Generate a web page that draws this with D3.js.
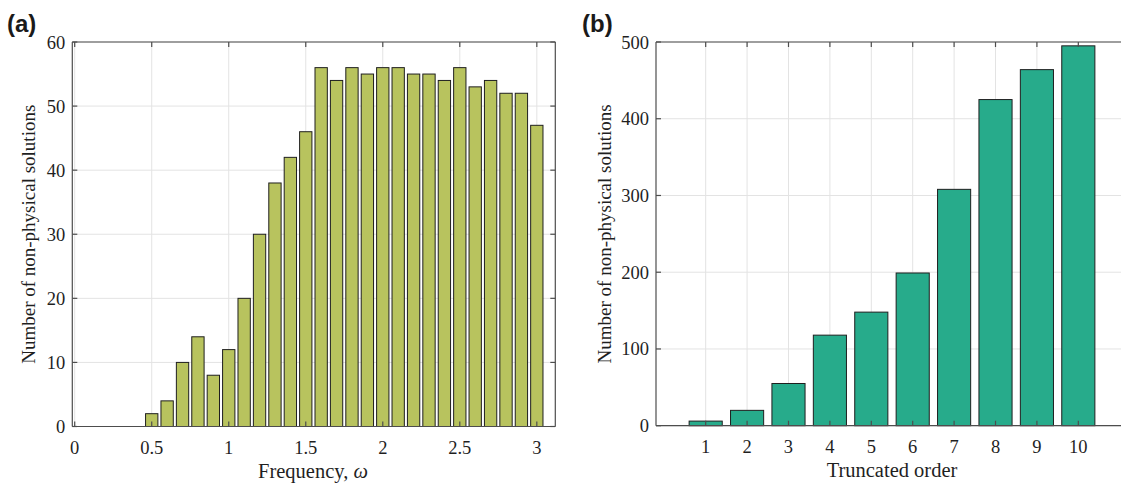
<!DOCTYPE html>
<html><head><meta charset="utf-8">
<script src="https://cdn.jsdelivr.net/npm/d3@7"></script>
<style>body{margin:0;background:#fff}svg{display:block}</style>
</head><body>
<svg id="c" width="1121" height="483"></svg>
<script>
// Panel (a)
const freqX = [0.1,0.2,0.3,0.4,0.5,0.6,0.7,0.8,0.9,1.0,1.1,1.2,1.3,1.4,1.5,1.6,1.7,1.8,1.9,2.0,2.1,2.2,2.3,2.4,2.5,2.6,2.7,2.8,2.9,3.0];
const freqCount = [0,0,0,0,2,4,10,14,8,12,20,30,38,42,46,56,54,56,55,56,56,55,55,54,56,53,54,52,52,47];
const freqTicks = [0,0.5,1,1.5,2,2.5,3];
const freqTickLabels = ["0","0.5","1","1.5","2","2.5","3"];
const countTicksA = [0,10,20,30,40,50,60];
// Panel (b)
const orders = [1,2,3,4,5,6,7,8,9,10];
const orderCount = [6,20,55,118,148,199,308,425,464,495];
const countTicksB = [0,100,200,300,400,500];

const svg = d3.select("#c");
const serif = "'Liberation Serif','Times New Roman',serif";
const axisCol = "#4d4d4d", gridCol = "#e3e3e3";

function panel(o){
  const g = svg.append("g");
  const x = d3.scaleLinear().domain(o.xdom).range([o.left,o.right]);
  const y = d3.scaleLinear().domain(o.ydom).range([o.bottom,o.top]);
  const clipId = "clip"+o.id;
  svg.append("clipPath").attr("id",clipId).append("rect")
    .attr("x",o.left).attr("y",o.top-2).attr("width",Math.min(o.right,1121)-o.left+1).attr("height",o.bottom-o.top+4);
  // grid
  g.selectAll(".gx").data(o.xticks).join("line")
    .attr("x1",d=>x(d)).attr("x2",d=>x(d)).attr("y1",o.top).attr("y2",o.bottom)
    .attr("stroke",gridCol).attr("stroke-width",1);
  g.selectAll(".gy").data(o.yticks).join("line")
    .attr("x1",o.left).attr("x2",o.right).attr("y1",d=>y(d)).attr("y2",d=>y(d))
    .attr("stroke",gridCol).attr("stroke-width",1);
  // bars
  const bw = (x(o.barStep)-x(0))*0.8;
  g.append("g").attr("clip-path",`url(#${clipId})`).selectAll("rect").data(o.xs).join("rect")
    .attr("x",(d)=>x(d)-bw/2).attr("width",bw)
    .attr("y",(d,i)=>y(o.vals[i])).attr("height",(d,i)=>y(0)-y(o.vals[i]))
    .attr("fill",o.color).attr("stroke","#1f1f1f").attr("stroke-width",1);
  // box
  const ax = g.append("g").attr("stroke",axisCol).attr("stroke-width",1.2).attr("fill","none");
  ax.append("line").attr("x1",o.left).attr("x2",o.right).attr("y1",o.top).attr("y2",o.top);
  ax.append("line").attr("x1",o.left).attr("x2",o.right).attr("y1",o.bottom).attr("y2",o.bottom);
  ax.append("line").attr("x1",o.left).attr("x2",o.left).attr("y1",o.top).attr("y2",o.bottom);
  ax.append("line").attr("x1",o.right).attr("x2",o.right).attr("y1",o.top).attr("y2",o.bottom);
  // ticks
  const tl = 5;
  o.xticks.forEach(t=>{
    ax.append("line").attr("x1",x(t)).attr("x2",x(t)).attr("y1",o.bottom).attr("y2",o.bottom-tl);
    ax.append("line").attr("x1",x(t)).attr("x2",x(t)).attr("y1",o.top).attr("y2",o.top+tl);
  });
  o.yticks.forEach(t=>{
    ax.append("line").attr("x1",o.left).attr("x2",o.left+tl).attr("y1",y(t)).attr("y2",y(t));
    ax.append("line").attr("x1",o.right).attr("x2",o.right-tl).attr("y1",y(t)).attr("y2",y(t));
  });
  // tick labels
  g.selectAll(".xl").data(o.xticks).join("text")
    .attr("x",d=>x(d)).attr("y",o.bottom+27).attr("text-anchor","middle")
    .attr("font-family",serif).attr("font-size",18.5).attr("fill","#1f1f1f")
    .text((d,i)=>o.xlabels[i]);
  g.selectAll(".yl").data(o.yticks).join("text")
    .attr("x",o.left-7).attr("y",d=>y(d)+6.5).attr("text-anchor","end")
    .attr("font-family",serif).attr("font-size",18.5).attr("fill","#1f1f1f")
    .text(d=>d);
  // axis titles
  const xt = g.append("text").attr("x",o.xtitleX).attr("y",o.bottom+51).attr("text-anchor","middle")
    .attr("font-family",serif).attr("font-size",20.5).attr("fill","#1f1f1f");
  xt.append("tspan").text(o.xtitle);
  if(o.xtitleIt) xt.append("tspan").attr("font-style","italic").text(o.xtitleIt);
  g.append("text").attr("transform",`translate(${o.ytitleX},${(o.top+o.bottom)/2}) rotate(-90)`)
    .attr("text-anchor","middle").attr("font-family",serif).attr("font-size",19).attr("fill","#1f1f1f")
    .text("Number of non-physical solutions");
  // panel label
  g.append("text").attr("x",o.labX).attr("y",32).attr("font-family","'Liberation Sans',Arial,sans-serif")
    .attr("font-weight","bold").attr("font-size",24).attr("fill","#1a1a1a").text(o.lab);
}

panel({id:"a", xdom:[-0.0156,3.12], ydom:[0,60], left:72.3, right:555.3, top:42, bottom:426.5,
  xs:freqX, vals:freqCount, barStep:0.1, color:"#b8c35e",
  xticks:freqTicks, xlabels:freqTickLabels, yticks:countTicksA,
  xtitle:"Frequency, ", xtitleIt:"ω", xtitleX:313, ytitleX:35, lab:"(a)", labX:7});

panel({id:"b", xdom:[-0.2,11.2], ydom:[0,500], left:656, right:1128, top:42, bottom:425.7,
  xs:orders, vals:orderCount, barStep:1, color:"#27ab8b",
  xticks:orders, xlabels:orders.map(String), yticks:countTicksB,
  xtitle:"Truncated order", xtitleIt:null, xtitleX:892, ytitleX:611, lab:"(b)", labX:582});
</script>
</body></html>
